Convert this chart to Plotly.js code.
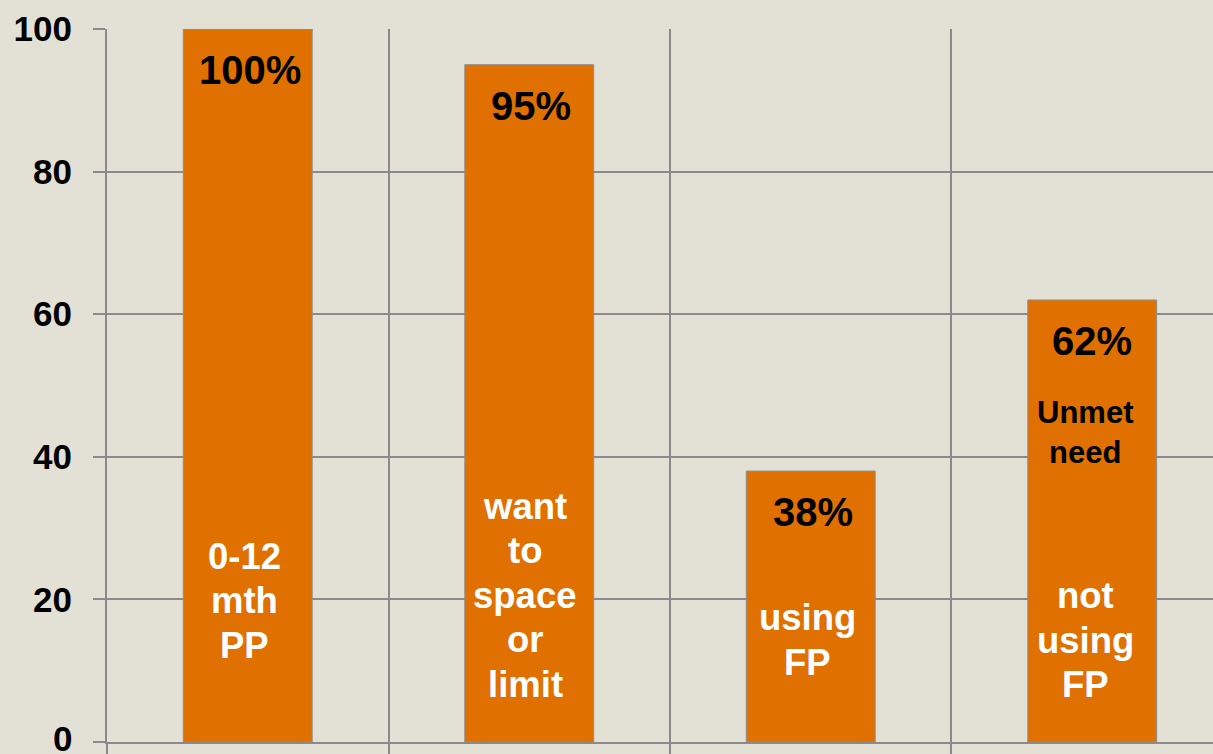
<!DOCTYPE html>
<html>
<head>
<meta charset="utf-8">
<script src="https://cdn.plot.ly/plotly-3.0.1.min.js"></script>
<style>
html,body{margin:0;padding:0;background:#e3e0d5;overflow:hidden;}
#chart{width:1213px;height:754px;}
</style>
</head>
<body>
<div id="chart"></div>
<script>
// Data
const categories = ["0-12<br>mth<br>PP", "want<br>to<br>space<br>or<br>limit", "using<br>FP", "not<br>using<br>FP"];
const values = [100, 95, 38, 62];
const valueLabels = ["100%", "95%", "38%", "62%"];
const extraLabels = [null, null, null, "Unmet<br>need"];
const yTickVals = [0, 20, 40, 60, 80, 100];
const yTickText = ["0", "20", "40", "60", "80", "100"];

// Layout helpers (positions/styles)
const catLabelY = [19.8, 20.6, 14.3, 14.3];
const catLabelX = [-0.01, -0.015, -0.01, -0.025];
const extraLabelY = [null, null, null, 43.4];
const lineGap = 44.5;

const xs = values.map((v, i) => i);
const barFont = "Liberation Sans, Arial, sans-serif";

const trace = {
  type: "bar",
  x: xs,
  y: values,
  width: 0.458,
  marker: {color: "#e07000", line: {color: "#8f8f8f", width: 1}},
  hoverinfo: "none"
};

const annotations = [];
values.forEach((v, i) => {
  annotations.push({
    x: i, y: v, xref: "x", yref: "y",
    text: "<b>" + valueLabels[i] + "</b>",
    showarrow: false, yanchor: "top", yshift: -17, xshift: i === 3 ? 0 : 2,
    font: {family: barFont, size: 40, color: "#000"}
  });
  const lines = categories[i].split("<br>");
  const n = lines.length;
  lines.forEach((ln, k) => {
    annotations.push({
      x: i + catLabelX[i], y: catLabelY[i], xref: "x", yref: "y",
      text: "<b>" + ln + "</b>",
      showarrow: false, yanchor: "middle",
      yshift: -(k - (n - 1) / 2) * lineGap,
      font: {family: barFont, size: 36.5, color: "#ffffff"}
    });
  });
  if (extraLabels[i]) {
    annotations.push({
      x: i + catLabelX[i], y: extraLabelY[i], xref: "x", yref: "y",
      text: "<b>" + extraLabels[i] + "</b>",
      showarrow: false, yanchor: "middle",
      font: {family: barFont, size: 31, color: "#000"}
    });
  }
});

// bottom tick label drawn slightly raised so it stays inside the page
annotations.push({
  x: 0, xref: "paper", xanchor: "right", xshift: -33,
  y: yTickVals[0], yref: "y", yanchor: "middle", yshift: 4,
  text: "<b>" + yTickText[0] + "</b>", showarrow: false,
  font: {family: barFont, size: 35, color: "#000"}
});

const layout = {
  width: 1213, height: 754,
  margin: {l: 107, r: 0, t: 29, b: 12, pad: 0},
  paper_bgcolor: "#e3e0d5",
  plot_bgcolor: "#e3e0d5",
  showlegend: false,
  xaxis: {
    range: [-0.5, 3.429],
    tickmode: "array",
    tickvals: [-0.5, 0.5, 1.5, 2.5],
    showticklabels: false,
    ticks: "outside", ticklen: 12, tickwidth: 2, tickcolor: "#8a8a8a",
    showgrid: true, gridcolor: "#8a8a8a", gridwidth: 2,
    showline: true, linecolor: "#8a8a8a", linewidth: 2,
    zeroline: false, fixedrange: true
  },
  yaxis: {
    range: [0, 100],
    tickmode: "array",
    tickvals: yTickVals,
    ticktext: yTickText.map((t, i) => i === 0 ? "" : t),
    ticks: "outside", ticklen: 12, tickwidth: 2, tickcolor: "#8a8a8a",
    ticklabelstandoff: 14,
    ticklabeloverflow: "allow",
    tickfont: {family: barFont, size: 35, color: "#000", weight: "bold"},
    showgrid: true, gridcolor: "#8a8a8a", gridwidth: 2,
    showline: true, linecolor: "#8a8a8a", linewidth: 2,
    zeroline: false, fixedrange: true
  },
  annotations: annotations
};

Plotly.newPlot("chart", [trace], layout, {displayModeBar: false, staticPlot: true});
</script>
</body>
</html>
